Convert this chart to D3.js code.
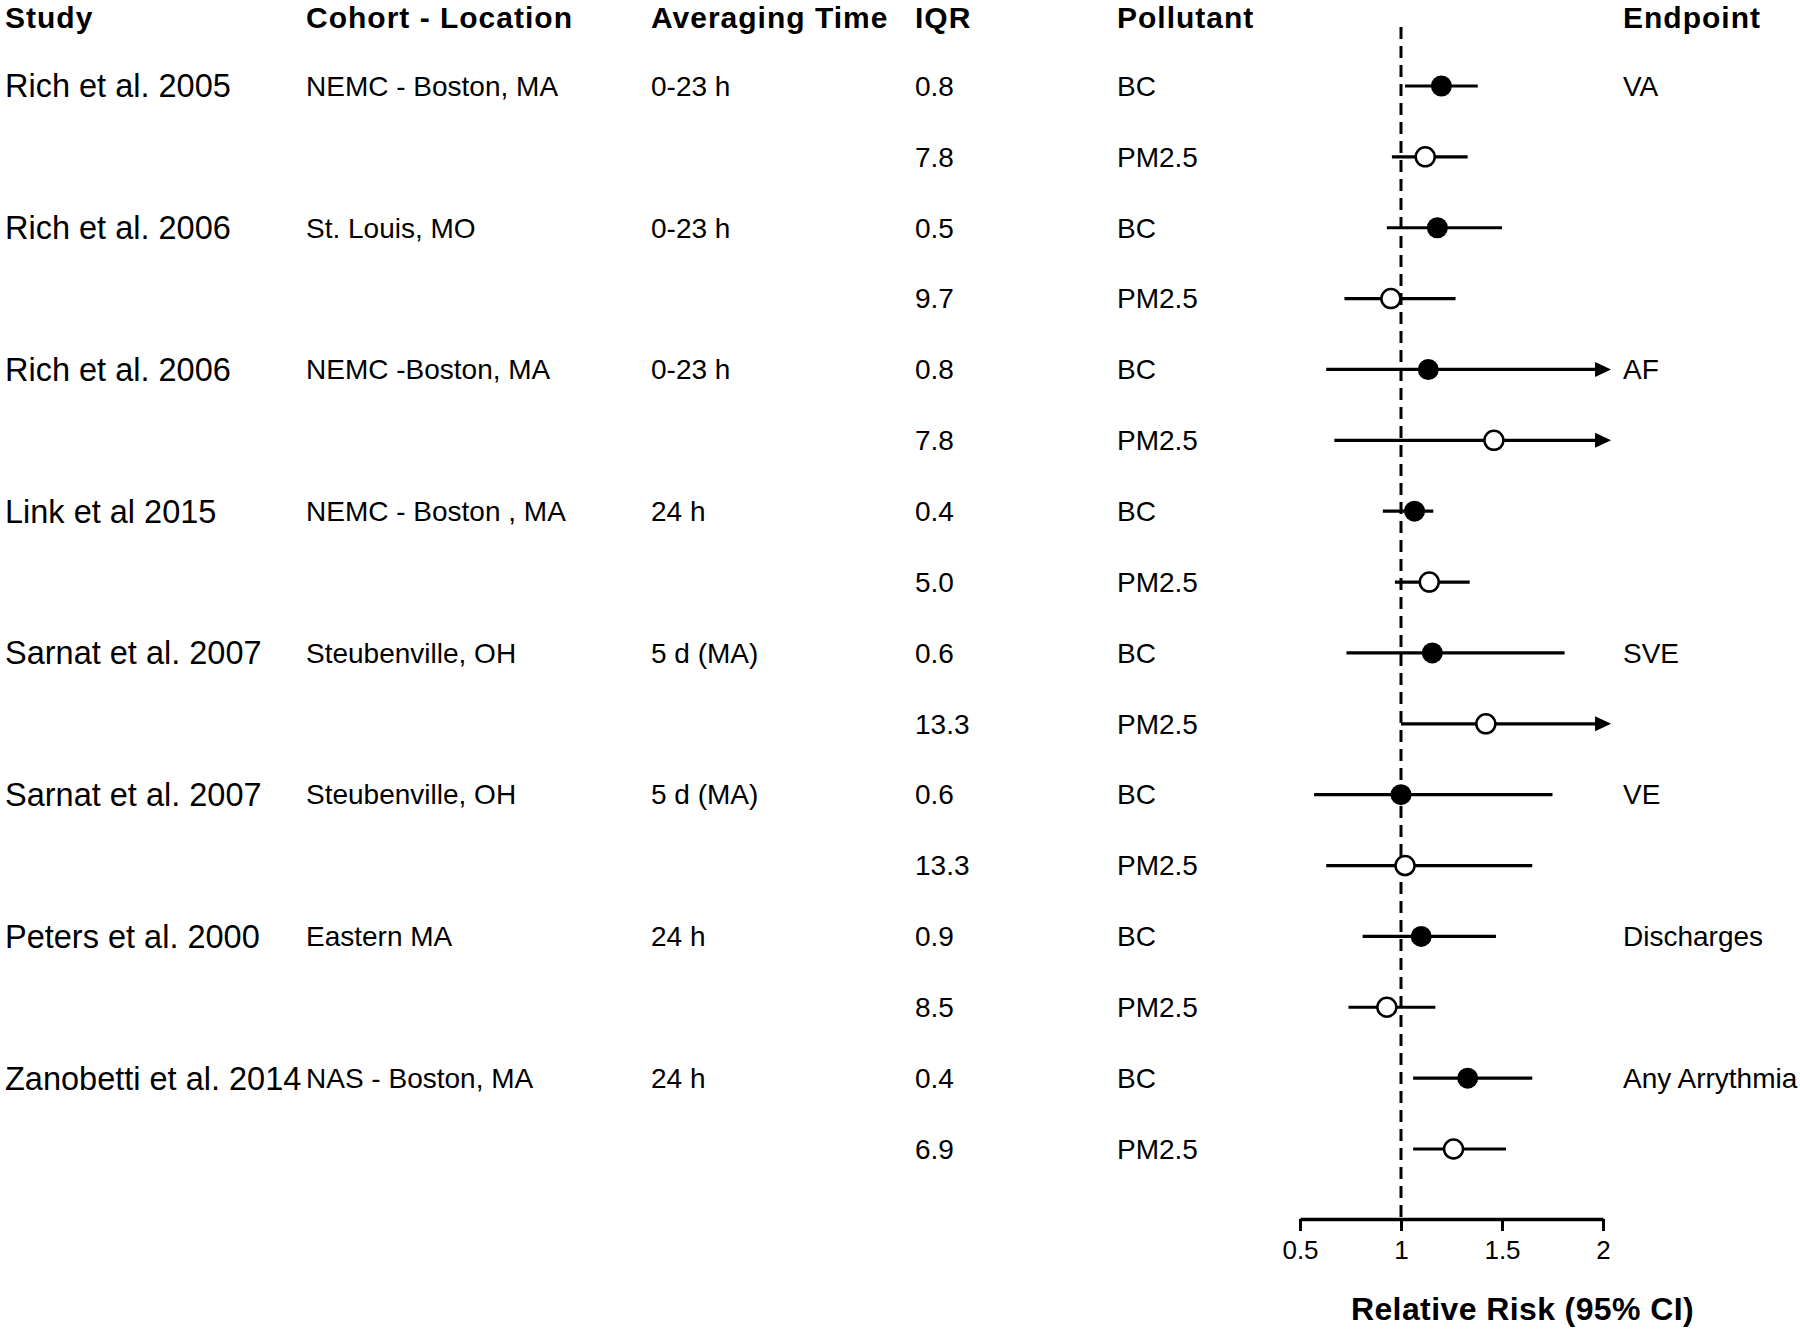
<!DOCTYPE html>
<html>
<head>
<meta charset="utf-8">
<script src="https://cdn.jsdelivr.net/npm/d3@7"></script>
<style>
  html, body { margin: 0; padding: 0; background: #fff; }
  svg { display: block; }
  text { font-family: "Liberation Sans", Arial, Helvetica, sans-serif; fill: #000; }
</style>
</head>
<body>
<svg id="chart" width="1800" height="1329"></svg>
<script>
// ---------- data ----------
const headers = ["Study", "Cohort - Location", "Averaging Time", "IQR", "Pollutant", "Endpoint"];
const studies = ["Rich et al. 2005", "Rich et al. 2006", "Rich et al. 2006", "Link et al 2015",
                 "Sarnat et al. 2007", "Sarnat et al. 2007", "Peters et al. 2000", "Zanobetti et al. 2014"];
const cohorts = ["NEMC - Boston, MA", "St. Louis, MO", "NEMC -Boston, MA", "NEMC - Boston , MA",
                 "Steubenville, OH", "Steubenville, OH", "Eastern MA", "NAS - Boston, MA"];
const avgTimes = ["0-23 h", "0-23 h", "0-23 h", "24 h", "5 d (MA)", "5 d (MA)", "24 h", "24 h"];
const endpoints = ["VA", "", "AF", "", "SVE", "VE", "Discharges", "Any Arrythmia"];
const pollutants = ["BC", "PM2.5"];
const iqrBC = ["0.8", "0.5", "0.8", "0.4", "0.6", "0.6", "0.9", "0.4"];
const iqrPM = ["7.8", "9.7", "7.8", "5.0", "13.3", "13.3", "8.5", "6.9"];
// relative risk estimates and 95% CI (null upper = beyond axis, drawn as arrow)
const rrBC = [1.20, 1.18, 1.135, 1.067, 1.155, 1.00, 1.10, 1.33];
const loBC = [1.02, 0.93, 0.63, 0.91, 0.73, 0.57, 0.81, 1.06];
const hiBC = [1.38, 1.50, null, 1.16, 1.81, 1.75, 1.47, 1.65];
const rrPM = [1.12, 0.95, 1.46, 1.14, 1.42, 1.02, 0.93, 1.26];
const loPM = [0.955, 0.72, 0.67, 0.97, 1.00, 0.63, 0.74, 1.06];
const hiPM = [1.33, 1.27, null, 1.34, null, 1.65, 1.17, 1.52];
const xTicks = [0.5, 1, 1.5, 2];
const xTickLabels = ["0.5", "1", "1.5", "2"];
const refValue = 1;
const arrowTipValue = 2.04;
const axisTitle = "Relative Risk (95% CI)";

// ---------- build rows ----------
const rows = [];
studies.forEach((s, i) => {
  rows.push({study: s, cohort: cohorts[i], avg: avgTimes[i], iqr: iqrBC[i], pol: pollutants[0],
             end: endpoints[i], rr: rrBC[i], lo: loBC[i], hi: hiBC[i], filled: true});
  rows.push({study: "", cohort: "", avg: "", iqr: iqrPM[i], pol: pollutants[1],
             end: "", rr: rrPM[i], lo: loPM[i], hi: hiPM[i], filled: false});
});

// ---------- layout ----------
const svg = d3.select("#chart");
const x = d3.scaleLinear().domain([0.5, 2]).range([1300, 1603]);
const y = d3.scalePoint().domain(d3.range(rows.length)).range([86, 1149]);
const axisY = 1219;
const colX = [5, 306, 651, 915, 1117, 1623];
const headerY = 28;

// headers
svg.append("g").selectAll("text").data(headers).join("text")
  .attr("x", (d, i) => colX[i]).attr("y", headerY)
  .attr("font-size", 30).attr("font-weight", "bold")
  .attr("letter-spacing", 1)
  .text(d => d);

// table text
const tbl = svg.append("g");
const cols = [
  {key: "study", size: 32.5},
  {key: "cohort", size: 28},
  {key: "avg", size: 28},
  {key: "iqr", size: 28},
  {key: "pol", size: 28},
  {key: "end", size: 28}
];
cols.forEach((c, ci) => {
  tbl.append("g").selectAll("text").data(rows.map((r, i) => ({t: r[c.key], i})).filter(d => d.t !== ""))
    .join("text")
    .attr("x", colX[ci])
    .attr("y", d => y(d.i))
    .attr("dy", "0.35em")
    .attr("font-size", c.size)
    .text(d => d.t);
});

// reference dashed line
svg.append("line")
  .attr("x1", x(refValue)).attr("x2", x(refValue))
  .attr("y1", 27).attr("y2", axisY)
  .attr("stroke", "#000").attr("stroke-width", 3)
  .attr("stroke-dasharray", "12,7");

// x axis
const axis = d3.axisBottom(x).tickValues(xTicks).tickFormat((d, i) => xTickLabels[i])
  .tickSizeInner(12).tickSizeOuter(0).tickPadding(10);
const gAxis = svg.append("g").attr("transform", `translate(0,${axisY})`).call(axis);
gAxis.select(".domain").attr("stroke", "#000").attr("stroke-width", 3.5);
gAxis.selectAll(".tick line").attr("stroke", "#000").attr("stroke-width", 3);
gAxis.selectAll(".tick text").attr("font-size", 26).attr("fill", "#000")
  .attr("font-family", "'Liberation Sans', Arial, sans-serif");

svg.append("text")
  .attr("x", (x(0.5) + x(2)) / 2 + 71).attr("y", 1320)
  .attr("text-anchor", "middle").attr("font-size", 32).attr("font-weight", "bold")
  .attr("letter-spacing", 0.4)
  .text(axisTitle);

// error bars
const marks = svg.append("g");
marks.selectAll("line.ci").data(rows).join("line")
  .attr("class", "ci")
  .attr("x1", d => x(d.lo))
  .attr("x2", d => d.hi === null ? x(arrowTipValue) - 14 : x(d.hi))
  .attr("y1", (d, i) => y(i)).attr("y2", (d, i) => y(i))
  .attr("stroke", "#000").attr("stroke-width", 3.2);

// arrowheads
marks.selectAll("path.arrow").data(rows.map((r, i) => ({r, i})).filter(d => d.r.hi === null))
  .join("path")
  .attr("class", "arrow")
  .attr("d", d => {
    const tx = x(arrowTipValue), ty = y(d.i);
    return `M${tx},${ty} L${tx - 16},${ty - 7.5} L${tx - 16},${ty + 7.5} Z`;
  })
  .attr("fill", "#000");

// point estimates
marks.selectAll("circle").data(rows).join("circle")
  .attr("cx", d => x(d.rr))
  .attr("cy", (d, i) => y(i))
  .attr("r", d => d.filled ? 10.5 : 9.5)
  .attr("fill", d => d.filled ? "#000" : "#fff")
  .attr("stroke", "#000")
  .attr("stroke-width", d => d.filled ? 0 : 2.5);
</script>
</body>
</html>
